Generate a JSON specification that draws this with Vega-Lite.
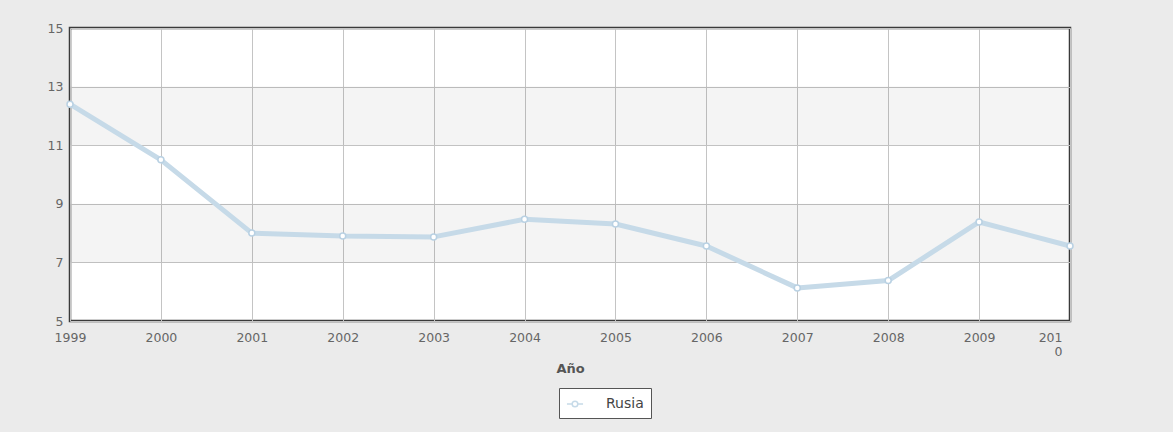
{
  "$schema": "https://vega.github.io/schema/vega-lite/v6.json",
  "width": 1000,
  "height": 293,
  "autosize": {"type": "none"},
  "padding": {"left": 70, "top": 28, "right": 103, "bottom": 111},
  "background": "#ebebeb",
  "config": {
    "font": "DejaVu Sans",
    "view": {"stroke": "#3a3a3a", "strokeWidth": 2.5, "fill": "white"},
    "axis": {
      "labelFont": "DejaVu Sans",
      "labelFontSize": 12.5,
      "labelColor": "#666666",
      "gridColor": "#c4c4c4",
      "gridWidth": 1,
      "domain": false,
      "ticks": false
    }
  },
  "datasets": {
    "bands": [
      {"desde": 7, "hasta": 9},
      {"desde": 11, "hasta": 13}
    ],
    "serie": [
      {"anio": 1999, "valor": 12.4, "pais": "Rusia"},
      {"anio": 2000, "valor": 10.5, "pais": "Rusia"},
      {"anio": 2001, "valor": 8.0, "pais": "Rusia"},
      {"anio": 2002, "valor": 7.9, "pais": "Rusia"},
      {"anio": 2003, "valor": 7.87, "pais": "Rusia"},
      {"anio": 2004, "valor": 8.47, "pais": "Rusia"},
      {"anio": 2005, "valor": 8.31, "pais": "Rusia"},
      {"anio": 2006, "valor": 7.56, "pais": "Rusia"},
      {"anio": 2007, "valor": 6.13, "pais": "Rusia"},
      {"anio": 2008, "valor": 6.38, "pais": "Rusia"},
      {"anio": 2009, "valor": 8.38, "pais": "Rusia"},
      {"anio": 2010, "valor": 7.56, "pais": "Rusia"}
    ]
  },
  "layer": [
    {
      "data": {"name": "bands"},
      "mark": {"type": "rect", "color": "#000000", "opacity": 0.045},
      "encoding": {
        "y": {
          "field": "desde",
          "type": "quantitative",
          "scale": {"domain": [5, 15], "nice": false, "zero": false},
          "axis": {
            "title": null,
            "values": [5, 7, 9, 11, 13, 15],
            "labelPadding": 7,
            "grid": true
          }
        },
        "y2": {"field": "hasta"}
      }
    },
    {
      "data": {"name": "serie"},
      "mark": {"type": "line", "color": "#c6dae8", "strokeWidth": 5, "strokeCap": "round", "strokeJoin": "round"},
      "encoding": {
        "x": {
          "field": "anio",
          "type": "quantitative",
          "scale": {"domain": [1999, 2010], "nice": false, "zero": false},
          "axis": {
            "title": "Año",
            "titleFont": "DejaVu Sans",
            "titleFontSize": 13,
            "titleFontWeight": "bold",
            "titleColor": "#555555",
            "titlePadding": 4,
            "values": [1999, 2000, 2001, 2002, 2003, 2004, 2005, 2006, 2007, 2008, 2009, 2010],
            "format": "d",
            "labelPadding": 10,
            "labelOverlap": false,
            "labelFlush": false,
            "labelExpr": "datum.value == 2010 ? ['201', '0'] : datum.label",
            "labelAlign": {"condition": {"test": "datum.value == 2010", "value": "right"}, "value": "center"},
            "labelOffset": {"condition": {"test": "datum.value == 2010", "value": -8}, "value": 0},
            "grid": true
          }
        },
        "y": {"field": "valor", "type": "quantitative"},
        "stroke": {
          "field": "pais",
          "type": "nominal",
          "scale": {"range": ["#c6dae8"]},
          "legend": {
            "title": null,
            "orient": "none",
            "legendX": 489,
            "legendY": 360,
            "fillColor": "white",
            "strokeColor": "#555555",
            "padding": 7,
            "labelFont": "DejaVu Sans",
            "labelFontSize": 14,
            "labelColor": "#444444",
            "labelOffset": 22,
            "symbolType": "M-1,0H-0.35M0.35,0H1M0.35,0A0.35,0.35 0 1,1 -0.35,0A0.35,0.35 0 1,1 0.35,0Z",
            "symbolSize": 260,
            "symbolFillColor": "white",
            "symbolStrokeWidth": 1.5
          }
        }
      }
    },
    {
      "data": {"name": "serie"},
      "mark": {"type": "point", "filled": true, "fill": "white", "stroke": "#b9d1e3", "strokeWidth": 1.5, "size": 36, "opacity": 1},
      "encoding": {
        "x": {"field": "anio", "type": "quantitative"},
        "y": {"field": "valor", "type": "quantitative"}
      }
    }
  ]
}
